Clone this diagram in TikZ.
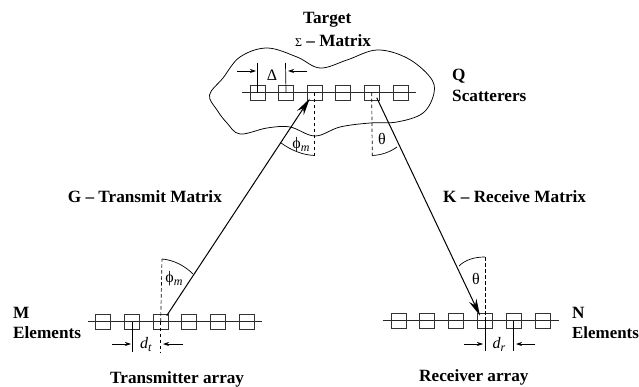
\documentclass[tikz,border=0pt]{standalone}
\usepackage{fontspec}
\setmainfont{Liberation Serif}
\usetikzlibrary{arrows.meta,calc}
\newcommand{\subsc}[1]{\raisebox{-3pt}{\fontsize{12}{12}\selectfont\textit{#1}}}
\tikzset{
  lbl/.style={font=\bfseries\fontsize{17.2}{19}\selectfont,inner sep=0pt,anchor=base west},
  sym/.style={font=\fontsize{16}{18}\selectfont,inner sep=0pt},
  elem/.style={draw=black!80,line width=0.7pt,minimum size=15pt,inner sep=0pt},
  bar/.style={line width=0.7pt,black!85},
  wire/.style={line width=0.75pt},
  ticklbl/.style={line width=0.7pt},
  dim/.style={line width=0.7pt,-{Stealth[length=6pt,width=4pt]}},
  main/.style={line width=1pt,-{Stealth[length=17pt,width=8pt]}},
  guide/.style={line width=0.7pt,dash pattern=on 3.5pt off 2.5pt},
  arcl/.style={line width=0.7pt}
}
\begin{document}
\begin{tikzpicture}[x=1pt,y=-1pt]
\useasboundingbox (0,0) rectangle (639,387);
% blob
\draw[wire,smooth cycle,tension=0.6] plot coordinates {
(209.5,95) (223,78) (240,57) (267,48) (297,57) (320,68) (347,60) (377,50) (407,58) (430,77) (434,93) (423,113) (397,122) (370,123) (340,127) (315,136) (290,127) (267,128) (240,134) (227,123) (217,110)};
% target array
\draw[bar] (241.7,92.7) coordinate (tl) -- (416,92.7) coordinate (tr);
\foreach \n/\x in {1/257.7,2/286,3/314.7,4/343,5/371.7,6/400.7}
  \node[elem] (t\n) at (\x,92.7) {};
% tx array
\draw[bar] (87.7,321.7) coordinate (ml) -- (261.7,321.7) coordinate (mr);
\foreach \n/\x in {1/103,2/132,3/160.7,4/189,5/217.7,6/246.7}
  \node[elem] (m\n) at (\x,321.7) {};
% rx array
\draw[bar] (382.7,320.7) coordinate (nl) -- (559,320.7) coordinate (nr);
\foreach \n/\x in {1/399,2/427.3,3/456.3,4/485,5/513.7,6/542.7}
  \node[elem] (n\n) at (\x,320.7) {};
% main rays
\draw[main] ($(m3)+(6,-6)$) -- ($(t3)+(-5,6)$);
\draw[main] ($(t5)+(5,5)$) -- ($(n4)+(-5,-5)$);
% guides
\draw[guide] (t3.center) -- (314.7,157);
\draw[guide] (t5.center) -- (372.3,158);
\draw[guide] (m3.center) -- (162,259);
\draw[guide] (n4.center) -- (485,257);
% arcs
\draw[arcl] (314.7,155.5) .. controls (302,155) and (291,150) .. (281,143);
\draw[arcl] (372.3,155.5) .. controls (382,155) and (390,152) .. (397,147);
\draw[arcl] (162,259) .. controls (174,260) and (185,266) .. (193,274);
\draw[arcl] (485,257) .. controls (474,257) and (465,260) .. (459,266);
% dims
\draw[ticklbl] (257.7,63) -- (t1.center);
\draw[ticklbl] (285.5,63) -- (t2.center);
\draw[dim] (237,71) -- (256,71);
\draw[dim] (307,71) -- (288,71);
\draw[ticklbl] (132.7,321.7) -- (132.7,352);
\draw[guide] (160.7,321.7) -- (160.7,352);
\draw[dim] (112,344) -- (131,344);
\draw[dim] (183,344) -- (163,344);
\draw[ticklbl] (485.3,320.7) -- (485.3,351);
\draw[ticklbl] (513.3,320.7) -- (513.3,351);
\draw[dim] (464,344) -- (483,344);
\draw[dim] (535,344) -- (516,344);
% labels
\node[lbl] (ltarget) at (303,24) {Target};
\node[lbl] (lsigma) at (295,47) {{\fontsize{12}{14}\selectfont\mdseries Σ} – Matrix};
\node[lbl] (lq) at (452,81) {Q};
\node[lbl] (ls) at (452,102) {Scatterers};
\node[lbl] (lg) at (67.7,203) {G – Transmit Matrix};
\node[lbl] (lk) at (443,203) {K – Receive Matrix};
\node[lbl] (lm) at (13,318) {M};
\node[lbl] (le) at (13,338) {Elements};
\node[lbl] (ln) at (572,318) {N};
\node[lbl,font=\bfseries\fontsize{16.9}{19}\selectfont] (le2) at (572,338) {Elements};
\node[lbl] (ltx) at (110,383) {Transmitter array};
\node[lbl] (lrx) at (419,381.7) {Receiver array};
% symbols
\node[sym] (p1) at (301,145) {ϕ\subsc{m}};
\node[sym] (th1) at (382,139) {θ};
\node[sym] (p2) at (174,279) {ϕ\subsc{m}};
\node[sym] (th2) at (476,279) {θ};
\node[sym] (dl) at (272,75) {Δ};
\node[sym] (dt) at (146,345) {\textit{d}\subsc{t}};
\node[sym] (dr) at (499,344) {\textit{d}\subsc{r}};
\end{tikzpicture}
\end{document}
